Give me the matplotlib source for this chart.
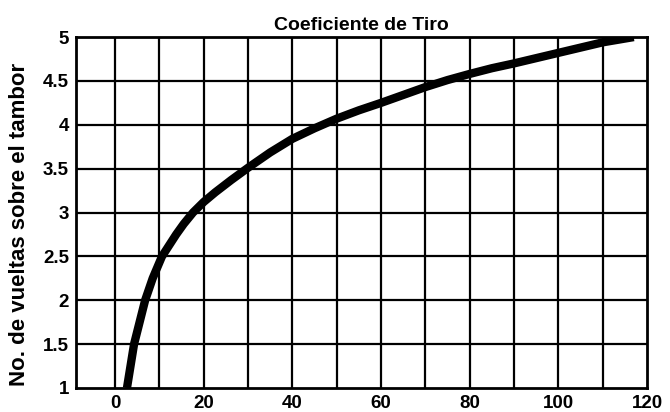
"""Coeficiente de Tiro: turns on the drum vs. pull coefficient."""

import matplotlib
matplotlib.use("Agg")
import matplotlib.pyplot as plt
import numpy as np

# Values
coef = [2.7, 4.3, 6.8, 8.5, 10.6, 13.8, 15.5, 17.6, 20, 22.6, 26.2, 30, 35,
        40, 45, 50, 55, 60, 65, 70, 75, 80, 85, 90, 95, 100, 105, 110, 117]
vueltas = [1.0, 1.5, 2.0, 2.25, 2.5, 2.75, 2.87, 3.0, 3.12, 3.23, 3.37,
           3.51, 3.685, 3.84, 3.96, 4.07, 4.165, 4.25, 4.34, 4.43, 4.51,
           4.58, 4.645, 4.70, 4.76, 4.82, 4.88, 4.94, 5.0]

x_labels = ["0", "20", "40", "60", "80", "100", "120"]
x_ticks = [0, 20, 40, 60, 80, 100, 120]
y_ticks = [1, 1.5, 2, 2.5, 3, 3.5, 4, 4.5, 5]
y_labels = ["1", "1.5", "2", "2.5", "3", "3.5", "4", "4.5", "5"]

plt.rcParams["font.family"] = ["Liberation Sans", "DejaVu Sans"]
plt.rcParams["font.weight"] = "bold"

fig = plt.figure(figsize=(6.7, 4.12), dpi=100)
ax = fig.add_axes([0.1134, 0.0583, 0.8523, 0.8517])

# grid every 10 in x and every 0.5 in y
for gx in np.arange(0, 120, 10):
    ax.axvline(gx, color="black", lw=1.6, zorder=1)
for gy in y_ticks[1:-1]:
    ax.axhline(gy, color="black", lw=1.6, zorder=1)

ax.plot(coef, vueltas, color="black", lw=6, solid_capstyle="butt",
        solid_joinstyle="round", zorder=3)

ax.set_xlim(-8.8, 120)
ax.set_ylim(1, 5)
ax.set_xticks(x_ticks)
ax.set_xticklabels(x_labels)
ax.set_yticks(y_ticks)
ax.set_yticklabels(y_labels)
ax.tick_params(length=0, labelsize=13.5, pad=5)
for sp in ax.spines.values():
    sp.set_linewidth(2)

ax.set_title("Coeficiente de Tiro", fontsize=14, fontweight="bold", pad=5)
ax.set_ylabel("No. de vueltas sobre el tambor", fontsize=16,
              fontweight="bold")
ax.yaxis.set_label_coords(-0.08, 0.467)

fig.savefig("out.png", dpi=100)
